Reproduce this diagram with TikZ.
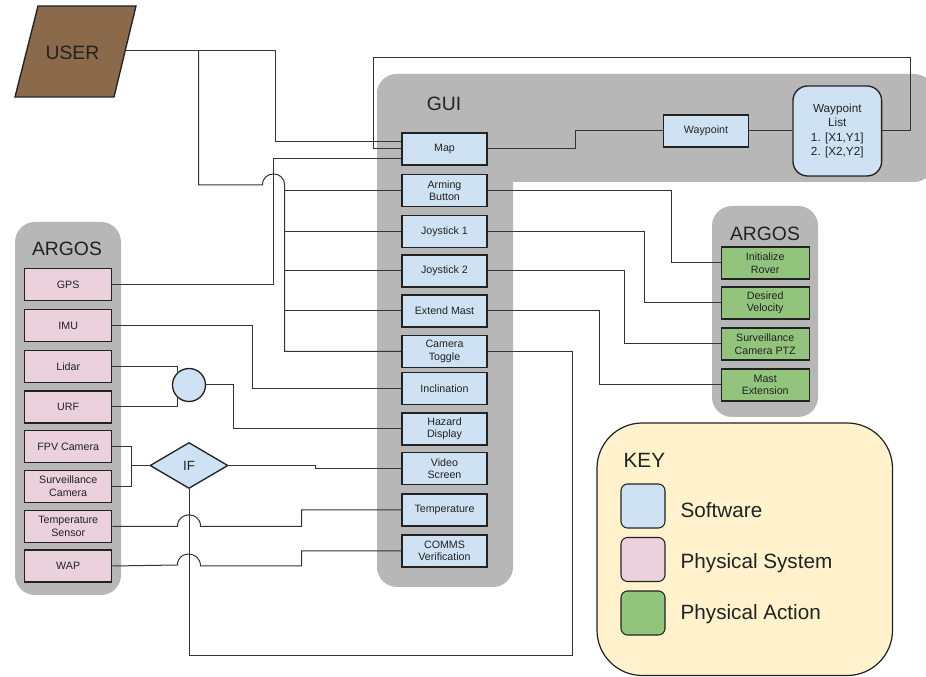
\documentclass[tikz,border=0pt]{standalone}
\usepackage{fontspec}
\setmainfont{Liberation Sans}
\usetikzlibrary{shapes.geometric}

\definecolor{guigrey}{HTML}{B7B7B7}
\definecolor{swblue}{HTML}{CFE2F3}
\definecolor{physpink}{HTML}{EAD1DC}
\definecolor{actgreen}{HTML}{93C47D}
\definecolor{keyyellow}{HTML}{FFF2CC}
\definecolor{userbrown}{HTML}{8B6A4B}
\definecolor{edgecol}{HTML}{222222}
\definecolor{wirecol}{HTML}{333333}
\definecolor{ink}{HTML}{222222}

\begin{document}
\begin{tikzpicture}[x=0.75pt,y=-0.75pt,
  wire/.style={draw=wirecol,line width=0.75pt},
  block/.style={draw=edgecol,line width=1pt,fill=swblue,minimum width=63.75pt,
    minimum height=24pt,inner sep=1pt,align=center,text=ink,
    font=\fontsize{8}{9.3}\selectfont},
  physblock/.style={block,fill=physpink,minimum width=65.25pt},
  actblock/.style={block,fill=actgreen,minimum width=66pt},
  panel/.style={fill=guigrey,rounded corners=15pt},
  heading/.style={text=ink,font=\fontsize{14.5}{17}\selectfont},
  swatch/.style={draw=edgecol,line width=0.8pt,rounded corners=5pt,
    minimum size=33pt,inner sep=0pt},
  keylabel/.style={anchor=base west,text=ink,font=\fontsize{15.5}{18}\selectfont},
]
\useasboundingbox (0,0) rectangle (926,677);
\fill[white] (0,0) rectangle (926,677);

% grouping panels
\begin{scope}
  \clip (0,0) rectangle (926,677);
  \fill[panel] (377,74) rectangle (934,182);
  \fill[panel] (377,74) rectangle (513,587);
  \fill[panel] (15,222) rectangle (121,595);
  \fill[panel] (712,206) rectangle (818,417);
\end{scope}

% operator
\filldraw[fill=userbrown,draw=edgecol,line width=1pt]
  (38,6) -- (136,6) -- (114,97) -- (15,97) -- cycle;
\node[heading,anchor=base] (user) at (72.5,59.3) {USER};
\coordinate (userport) at (125,51);

% panel titles
\node[heading,anchor=base] (guititle) at (444,111) {GUI};
\node[heading,anchor=base] (argosin) at (67,256) {ARGOS};
\node[heading,anchor=base] (argosout) at (765,240.7) {ARGOS};

% GUI software blocks
\node[block] (map)   at (444.5,149)   {Map};
\node[block] (arm)   at (444.5,190.5) {Arming\\Button};
\node[block] (joy1)  at (444.5,231.5) {Joystick 1};
\node[block] (joy2)  at (444.5,271)   {Joystick 2};
\node[block] (mast)  at (444.5,311)   {Extend Mast};
\node[block] (camt)  at (444.5,351.5) {Camera\\Toggle};
\node[block] (incl)  at (444.5,388.5) {Inclination};
\node[block] (hazd)  at (444.5,429)   {Hazard\\Display};
\node[block] (video) at (444.5,468.5) {Video\\Screen};
\node[block] (tempd) at (444.5,510)   {Temperature};
\node[block] (comms) at (444.5,551)   {COMMS\\Verification};
\node[block] (wp)    at (706,131)     {Waypoint};
\node[block,rounded corners=11pt,minimum width=66.5pt,minimum height=67.5pt,
  font=\fontsize{8.8}{10.9}\selectfont] (wplist) at (837.3,131)
  {Waypoint\\List\\1. [X1,Y1]\\2. [X2,Y2]};

% rover hardware
\node[physblock] (gps)     at (68.2,284.5) {GPS};
\node[physblock] (imu)     at (68.2,325.5) {IMU};
\node[physblock] (lidar)   at (68.2,366.7) {Lidar};
\node[physblock] (urf)     at (68.2,407)   {URF};
\node[physblock] (fpv)     at (68.2,446.7) {FPV Camera};
\node[physblock] (survcam) at (68.2,486.3) {Surveillance\\Camera};
\node[physblock] (tsens)   at (68.2,526.3) {Temperature\\Sensor};
\node[physblock] (wap)     at (68.2,566)   {WAP};

% rover actions
\node[actblock] (init)  at (765.2,263) {Initialize\\Rover};
\node[actblock] (vel)   at (765.2,303) {Desired\\Velocity};
\node[actblock] (ptz)   at (765.2,344) {Surveillance\\Camera PTZ};
\node[actblock] (mastx) at (765.2,385) {Mast\\Extension};

% sensor fusion and camera selector
\node[draw=edgecol,line width=1pt,fill=swblue,circle,minimum size=24.75pt,
  inner sep=0pt] (fuse) at (189,385) {};
\node[draw=edgecol,line width=1pt,fill=swblue,diamond,minimum width=58.5pt,
  minimum height=34.5pt,inner sep=0pt,text=ink,
  font=\fontsize{10}{12}\selectfont] (ifgate) at (189,465.5) {IF};

% key
\draw[draw=edgecol,line width=0.9pt,fill=keyyellow,rounded corners=34pt]
  (597,423) rectangle (892.5,675.5);
\node[anchor=base west,text=ink,font=\fontsize{15.5}{18}\selectfont]
  (keytitle) at (619,467.3) {KEY};
\node[swatch,fill=swblue]    (keysw)   at (643,506)   {};
\node[swatch,fill=physpink]  (keyphys) at (643,559.5) {};
\node[swatch,fill=actgreen]  (keyact)  at (643,613)   {};
\node[keylabel] (keyswl)   at (676,517.5) {Software};
\node[keylabel] (keyphysl) at (676,568.5) {Physical System};
\node[keylabel] (keyactl)  at (676,619)   {Physical Action};

% operator to GUI
\draw[wire] (userport) -- (275,51) -- (275,142) -- (275,142 -| map.west);
\coordinate (busx) at (284.5,0);
\draw[wire] (198.5,51) -- (198.5,185) -- (262.5,185)
  .. controls (262.5,170.3) and (284.5,170.3) .. (284.5,185) |- (camt.west);
\foreach \n in {arm,joy1,joy2,mast}
  \draw[wire] (busx |- \n.west) -- (\n.west);

% GPS to map
\draw[wire] (gps.east) -| (273.5,158.5) -- (273.5,158.5 -| map.west);

% map, waypoint and list loop
\draw[wire] (map.east) -- (575,149) |- (wp.west);
\draw[wire] (wp.east) -- (wplist.west);
\draw[wire] (wplist.east) -- (910.5,131) -- (910.5,57.5) -- (373,57.5)
  -- (373,149) -- (map.west);

% GUI commands to rover actions
\draw[wire] (arm.east)  -| (671.7,263) -- (init.west);
\draw[wire] (joy1.east) -| (644,303)   -- (vel.west);
\draw[wire] (joy2.east) -| (624.3,344) -- (ptz.west);
\draw[wire] (mast.east) -| (599,385)   -- (mastx.west);

% camera toggle back to the selector
\draw[wire] (camt.east) -| (572.3,655.5) -| (ifgate.south);

% inertial and range sensing
\draw[wire] (imu.east) -| (252.3,388.5) -- (incl.west);
\draw[wire] (lidar.east) -| (fuse.133);
\draw[wire] (urf.east) -| (fuse.227);
\draw[wire] (fuse.east) -| (233.3,429) -- (hazd.west);

% cameras through the selector
\draw[wire] (fpv.east) -- (131,446.7) |- (survcam.east);
\draw[wire] (131,465.5) -- (ifgate.west);
\draw[wire] (ifgate.east) -- (315,465.5) |- (video.west);

% temperature and comms, hopping over the return line
\draw[wire] (tsens.east) -- (177.5,526.3)
  .. controls (177.5,511) and (200.5,511) .. (200.5,526.3)
  -- (301.5,526.3) |- (tempd.west);
\draw[wire] (wap.east) -- (177.5,565)
  .. controls (177.5,549.7) and (200.5,550.7) .. (200.5,566)
  -- (301.5,566) |- (comms.west);
\end{tikzpicture}
\end{document}
